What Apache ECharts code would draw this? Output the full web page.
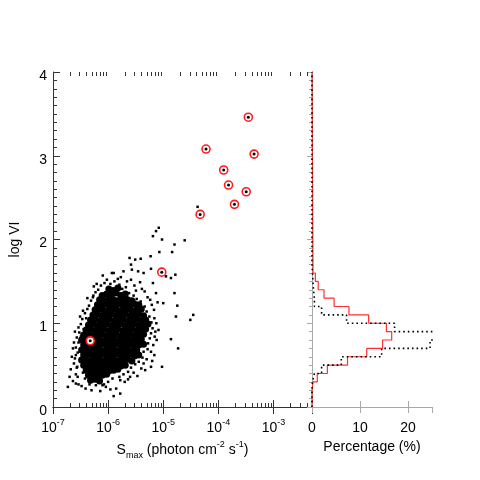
<!DOCTYPE html>
<html>
<head>
<meta charset="utf-8">
<title>log VI vs Smax</title>
<script src="https://cdn.jsdelivr.net/npm/echarts@6.0.0/dist/echarts.min.js"></script>
<style>
  html, body { margin: 0; padding: 0; background: #fff; }
  #main { width: 480px; height: 480px; }
</style>
</head>
<body>
<div id="main"></div>
<script>
// dense core of the event cloud: [Smax, log VI]
var coreDots = [
  [1.03e-6,1.41],[1.25e-6,1.39],[1.5e-6,1.42],
  [7.8e-7,1.33],[9.4e-7,1.35],[1.15e-6,1.34],[1.4e-6,1.36],[1.7e-6,1.33],[2.05e-6,1.35],
  [7.0e-7,1.28],[8.5e-7,1.27],[1.03e-6,1.29],[1.25e-6,1.28],[1.5e-6,1.27],[1.85e-6,1.29],[2.25e-6,1.28],[2.7e-6,1.27],
  [6.4e-7,1.22],[7.8e-7,1.21],[9.4e-7,1.23],[1.15e-6,1.22],[1.4e-6,1.21],[1.7e-6,1.23],[2.05e-6,1.22],[2.5e-6,1.21],[3.0e-6,1.23],[3.6e-6,1.22],
  [5.8e-7,1.16],[7.0e-7,1.17],[8.5e-7,1.15],[1.03e-6,1.16],[1.25e-6,1.17],[1.5e-6,1.15],[1.85e-6,1.16],[2.25e-6,1.17],[2.7e-6,1.15],[3.3e-6,1.16],[4.0e-6,1.17],
  [5.3e-7,1.10],[6.4e-7,1.11],[7.8e-7,1.09],[9.4e-7,1.10],[1.15e-6,1.11],[1.4e-6,1.09],[1.7e-6,1.10],[2.05e-6,1.11],[2.5e-6,1.09],[3.0e-6,1.10],[3.6e-6,1.11],[4.4e-6,1.09],
  [4.8e-7,1.04],[5.8e-7,1.05],[7.0e-7,1.03],[8.5e-7,1.04],[1.03e-6,1.05],[1.25e-6,1.03],[1.5e-6,1.04],[1.85e-6,1.05],[2.25e-6,1.03],[2.7e-6,1.04],[3.3e-6,1.05],[4.0e-6,1.03],[4.8e-6,1.04],
  [4.4e-7,0.98],[5.3e-7,0.99],[6.4e-7,0.97],[7.8e-7,0.98],[9.4e-7,0.99],[1.15e-6,0.97],[1.4e-6,0.98],[1.7e-6,0.99],[2.05e-6,0.97],[2.5e-6,0.98],[3.0e-6,0.99],[3.6e-6,0.97],[4.4e-6,0.98],[5.3e-6,0.99],
  [4.0e-7,0.92],[4.8e-7,0.93],[5.8e-7,0.91],[7.0e-7,0.92],[8.5e-7,0.93],[1.03e-6,0.91],[1.25e-6,0.92],[1.5e-6,0.93],[1.85e-6,0.91],[2.25e-6,0.92],[2.7e-6,0.93],[3.3e-6,0.91],[4.0e-6,0.92],[4.8e-6,0.93],
  [3.6e-7,0.86],[4.4e-7,0.87],[5.3e-7,0.85],[6.4e-7,0.86],[7.8e-7,0.87],[9.4e-7,0.85],[1.15e-6,0.86],[1.4e-6,0.87],[1.7e-6,0.85],[2.05e-6,0.86],[2.5e-6,0.87],[3.0e-6,0.85],[3.6e-6,0.86],[4.4e-6,0.87],
  [3.3e-7,0.80],[4.0e-7,0.81],[4.8e-7,0.79],[5.8e-7,0.80],[7.0e-7,0.81],[8.5e-7,0.79],[1.03e-6,0.80],[1.25e-6,0.81],[1.5e-6,0.79],[1.85e-6,0.80],[2.25e-6,0.81],[2.7e-6,0.79],[3.3e-6,0.80],[4.0e-6,0.81],
  [3.6e-7,0.74],[4.4e-7,0.75],[5.3e-7,0.73],[6.4e-7,0.74],[7.8e-7,0.75],[9.4e-7,0.73],[1.15e-6,0.74],[1.4e-6,0.75],[1.7e-6,0.73],[2.05e-6,0.74],[2.5e-6,0.75],[3.0e-6,0.73],[3.6e-6,0.74],[4.4e-6,0.75],
  [3.3e-7,0.68],[4.0e-7,0.69],[4.8e-7,0.67],[5.8e-7,0.68],[7.0e-7,0.69],[8.5e-7,0.67],[1.03e-6,0.68],[1.25e-6,0.69],[1.5e-6,0.67],[1.85e-6,0.68],[2.25e-6,0.69],[2.7e-6,0.67],[3.3e-6,0.68],
  [3.6e-7,0.62],[4.4e-7,0.63],[5.3e-7,0.61],[6.4e-7,0.62],[7.8e-7,0.63],[9.4e-7,0.61],[1.15e-6,0.62],[1.4e-6,0.63],[1.7e-6,0.61],[2.05e-6,0.62],[2.5e-6,0.63],[3.0e-6,0.61],[3.6e-6,0.62],
  [3.3e-7,0.56],[4.0e-7,0.57],[4.8e-7,0.55],[5.8e-7,0.56],[7.0e-7,0.57],[8.5e-7,0.55],[1.03e-6,0.56],[1.25e-6,0.57],[1.5e-6,0.55],[1.85e-6,0.56],[2.25e-6,0.57],[2.7e-6,0.55],
  [3.6e-7,0.50],[4.4e-7,0.51],[5.3e-7,0.49],[6.4e-7,0.50],[7.8e-7,0.51],[9.4e-7,0.49],[1.15e-6,0.50],[1.4e-6,0.51],[1.7e-6,0.49],[2.05e-6,0.50],
  [4.0e-7,0.44],[4.8e-7,0.45],[5.8e-7,0.43],[7.0e-7,0.44],[8.5e-7,0.45],[1.03e-6,0.43],[1.25e-6,0.44],[1.5e-6,0.45],
  [4.4e-7,0.38],[5.3e-7,0.39],[6.4e-7,0.37],[7.8e-7,0.38],[9.4e-7,0.39],
  [4.8e-7,0.32],[5.8e-7,0.33],[7.0e-7,0.31]
];

// sparser edge of the cloud
var haloDots = [
  [2.3e-7,0.31],[2.6e-7,0.39],[2.4e-7,0.52],[2.7e-7,0.47],[2.5e-7,0.58],[2.8e-7,0.65],[2.6e-7,0.71],[2.9e-7,0.77],
  [2.7e-7,0.83],[3.0e-7,0.89],[2.9e-7,0.95],[3.2e-7,0.99],[3.4e-7,1.05],[3.6e-7,0.93],[3.8e-7,1.12],[4.2e-7,1.17],
  [4.5e-7,1.21],[4.9e-7,1.27],[5.3e-7,1.31],[5.9e-7,1.37],[6.6e-7,1.40],[7.4e-7,1.45],[8.6e-7,1.48],[9.5e-7,1.52],
  [1.1e-6,1.47],[1.3e-6,1.50],[1.6e-6,1.46],[1.8e-6,1.41],[2.1e-6,1.43],[2.4e-6,1.36],[2.9e-6,1.33],[3.3e-6,1.29],
  [3.9e-6,1.26],[4.6e-6,1.20],[5.0e-6,1.14],[5.6e-6,1.08],[6.1e-6,1.01],[6.4e-6,0.94],[6.0e-6,0.88],[5.7e-6,0.82],
  [5.3e-6,0.76],[5.2e-6,0.69],[4.4e-6,0.66],[4.2e-6,0.59],[3.6e-6,0.54],[3.1e-6,0.51],[2.6e-6,0.47],[2.3e-6,0.42],
  [1.9e-6,0.39],[1.6e-6,0.36],[1.2e-6,0.34],[1.0e-6,0.30],[8.4e-7,0.27],[6.0e-7,0.26],[4.6e-7,0.27],[3.8e-7,0.34],
  [3.5e-7,0.41],[7.0e-6,0.84],[7.5e-6,1.00],[6.8e-6,1.16],[5.8e-6,1.28],[4.6e-6,1.38],[3.0e-6,1.45],[6.9e-6,0.62],
  [6.3e-6,0.55],[8.2e-6,0.92],[2.1e-7,0.45],[2.2e-7,0.60],[2.4e-7,0.77],[2.0e-7,0.36],[5.0e-7,0.20],[7.2e-7,0.19],
  [1.4e-6,0.22],[2.0e-6,0.30],[3.4e-6,0.37],[1.7e-6,1.55],[2.6e-6,1.52],[3.8e-6,1.49],[4.2e-7,1.30],[5.5e-7,1.44],
  [8.0e-7,1.57],[2.5e-7,0.90],[2.3e-7,0.70],[3.1e-7,1.08],[3.5e-7,1.15],[2.9e-7,0.27],[3.9e-7,0.22],[1.1e-6,0.21],
  [2.3e-6,0.33],[2.9e-6,0.41],[4.0e-6,0.46],[5.0e-6,0.57],[6.0e-6,0.66],[6.6e-6,0.74],[7.6e-6,0.80],[7.2e-6,0.90],
  [6.9e-6,1.06],[6.2e-6,1.22],[5.2e-6,1.31],[4.1e-6,1.41],[3.2e-6,1.39],[2.2e-6,1.50],[1.5e-6,1.53],[6.2e-7,1.47]
];

// isolated events outside the cloud
var strayDots = [
  [6.5e-6,2.04],[7.4e-6,2.10],[8.3e-6,2.14],[9.5e-6,2.00],[2.45e-5,1.99],[1.6e-5,1.94],[1.45e-5,1.85],[8.5e-6,1.85],
  [5.9e-6,1.80],[2.45e-6,1.78],[3.1e-6,1.76],[3.9e-6,1.77],[2.6e-6,1.70],[6.0e-6,1.65],[1.12e-5,1.56],[1.38e-5,1.54],
  [1.66e-5,1.58],[1.6e-5,1.36],[1.8e-5,1.21],[1.7e-5,1.08],[3.5e-5,1.10],[3.1e-5,1.04],[1.86e-5,0.70],[1.38e-5,0.81],
  [9.5e-6,0.48],[6.0e-6,0.48],[7.9e-6,1.25],[1.0e-5,1.24],[7.4e-6,1.36],[6.5e-6,1.48],[1.26e-6,1.60],[1.9e-6,1.62],
  [2.7e-6,1.64],[3.5e-6,1.62],[4.4e-6,1.60],[1.86e-7,0.24],[2.6e-7,0.28],[3.3e-7,0.25],[2.8e-7,0.36],[2.75e-7,0.48],
  [2.6e-7,0.62],[3.2e-7,0.84],[4.0e-7,1.06],[5.4e-7,1.33],[1.17e-6,1.60],[1.26e-6,0.13],[1.66e-6,0.16],[7.9e-7,0.26],
  [9.1e-7,0.24],[4.4e-6,0.52],[4.7e-6,0.44],[1.66e-6,0.32],[2.5e-6,0.36],[4.2e-5,2.39]
];

// events marked with red circles
var flareSmax = [3.5e-4, 5.97e-5, 4.45e-4, 1.25e-4, 1.53e-4, 3.2e-4, 1.96e-4, 4.67e-5, 9.4e-6, 4.74e-7];
var flareVI   = [3.46, 3.08, 3.02, 2.83, 2.65, 2.57, 2.42, 2.30, 1.61, 0.79];

// histograms of log VI (percent per 0.1 bin)
var histEdges = [0.2,0.3,0.4,0.5,0.6,0.7,0.8,0.9,1.0,1.1,1.2,1.3,1.4,1.5,1.6,1.7];
var redPct    = [0.2,1.1,3.2,7.4,11.4,14.7,16.6,15.5,11.8,7.7,4.6,2.5,1.3,0.7,0.2];
var blackPct  = [0.1,0.5,2.0,6.1,14.5,24.6,26.0,17.2,7.2,2.0,0.5,0.3,0.2,0.1,0];

// axis ticks
var decades = [1e-7, 1e-6, 1e-5, 1e-4, 1e-3];
var minorMult = [2, 3, 4, 5, 6, 7, 8, 9];
var smaxMax = 5e-3;

var FONT = '"Liberation Sans", Arial, Helvetica, sans-serif';
var DARK = '#333';
var LIGHT = '#aaa';

var minorTicks = [];
decades.forEach(function (d) {
  minorMult.forEach(function (m) {
    if (d * m < smaxMax) minorTicks.push([d * m, 0]);
  });
});

function steps(pct) {
  var pts = [[0, 0], [0, histEdges[0]]];
  pct.forEach(function (p, i) {
    pts.push([p, histEdges[i]], [p, histEdges[i + 1]]);
  });
  pts.push([0, histEdges[histEdges.length - 1]], [0, 4]);
  return pts;
}

var flareDots = flareSmax.map(function (s, i) { return [s, flareVI[i]]; });

var rich = {
  n: { fontSize: 14, fontFamily: FONT, color: '#000', lineHeight: 20 },
  sup: { fontSize: 9, fontFamily: FONT, color: '#000', lineHeight: 10, verticalAlign: 'top' },
  sub: { fontSize: 9, fontFamily: FONT, color: '#000', lineHeight: 10, verticalAlign: 'bottom' }
};

var chart = echarts.init(document.getElementById('main'));

var option = {
  animation: false,
  backgroundColor: '#fff',
  grid: [
    { left: 48, top: 72, width: 264, height: 335 },
    { left: 312, top: 72, width: 120, height: 335 }
  ],
  xAxis: [
    {
      gridIndex: 0, type: 'log', logBase: 10, min: 1e-7, max: smaxMax, position: 'bottom',
      axisLine: { lineStyle: { color: DARK } },
      axisTick: { inside: true, length: 7, lineStyle: { color: DARK } },
      splitLine: { show: false },
      axisLabel: {
        margin: 11, showMinLabel: true, showMaxLabel: true,
        formatter: function (v) {
          var l = Math.log10(v), e = Math.round(l);
          if (Math.abs(l - e) > 0.01) return '';
          return '{n|10}{sup|' + e + '}';
        },
        rich: rich
      },
      name: '{n|S}{sub|max}{n| (photon cm}{sup|-2}{n| s}{sup|-1}{n|)}',
      nameLocation: 'middle', nameGap: 31,
      nameTextStyle: { rich: rich }
    },
    {
      gridIndex: 0, type: 'log', logBase: 10, min: 1e-7, max: smaxMax, position: 'top',
      axisLine: { lineStyle: { color: DARK } },
      axisTick: { inside: true, length: 7, lineStyle: { color: DARK } },
      axisLabel: { show: false },
      splitLine: { show: false }
    },
    {
      gridIndex: 1, type: 'value', min: 0, max: 25, interval: 10, position: 'bottom',
      axisLine: { lineStyle: { color: LIGHT } },
      axisTick: { inside: true, length: 6, lineStyle: { color: LIGHT } },
      axisLabel: { margin: 14, fontSize: 14, fontFamily: FONT, color: '#000', showMaxLabel: false },
      splitLine: { show: false },
      name: 'Percentage (%)', nameLocation: 'middle', nameGap: 33,
      nameTextStyle: { fontSize: 14, fontFamily: FONT, color: '#000' }
    },
    {
      gridIndex: 1, type: 'value', min: 0, max: 25, interval: 10, position: 'top',
      axisLine: { lineStyle: { color: LIGHT } },
      axisTick: { inside: true, length: 6, lineStyle: { color: LIGHT } },
      axisLabel: { show: false },
      splitLine: { show: false }
    }
  ],
  yAxis: [
    {
      gridIndex: 0, type: 'value', min: 0, max: 4, interval: 1, position: 'left',
      axisLine: { lineStyle: { color: DARK } },
      axisTick: { inside: true, length: 7, lineStyle: { color: DARK } },
      minorTick: { show: true, splitNumber: 10, length: 4, lineStyle: { color: DARK } },
      splitLine: { show: false },
      axisLabel: { margin: 6, fontSize: 14, fontFamily: FONT, color: '#000', verticalAlign: 'top', lineHeight: 8 },
      name: 'log VI', nameLocation: 'middle', nameGap: 31, nameRotate: 90,
      nameTextStyle: { fontSize: 14, fontFamily: FONT, color: '#000' }
    },
    {
      gridIndex: 0, type: 'value', min: 0, max: 4, interval: 1, position: 'right',
      axisLine: { lineStyle: { color: DARK } },
      axisTick: { show: false },
      axisLabel: { show: false },
      splitLine: { show: false }
    },
    {
      gridIndex: 1, type: 'value', min: 0, max: 4, interval: 1, position: 'left',
      axisLine: { show: false },
      axisTick: { show: false },
      axisLabel: { show: false },
      splitLine: { show: false }
    },
    {
      gridIndex: 1, type: 'value', min: 0, max: 4, interval: 1, position: 'right',
      axisLine: { lineStyle: { color: LIGHT } },
      axisTick: { inside: true, length: 5, lineStyle: { color: LIGHT } },
      minorTick: { show: true, splitNumber: 10, length: 3, lineStyle: { color: LIGHT } },
      axisLabel: { show: false },
      splitLine: { show: false }
    }
  ],
  series: [
    {
      type: 'custom', xAxisIndex: 0, yAxisIndex: 0, silent: true, clip: false,
      data: minorTicks, encode: { x: 0, y: 1 },
      renderItem: function (params, api) {
        var b = api.coord([api.value(0), 0]);
        var t = api.coord([api.value(0), 4]);
        var x = Math.round(b[0]) + 0.5;
        return {
          type: 'group',
          children: [
            { type: 'line', shape: { x1: x, y1: b[1], x2: x, y2: b[1] - 4 }, style: { stroke: DARK, lineWidth: 1 } },
            { type: 'line', shape: { x1: x, y1: t[1], x2: x, y2: t[1] + 4 }, style: { stroke: DARK, lineWidth: 1 } }
          ]
        };
      }
    },
    {
      type: 'scatter', xAxisIndex: 0, yAxisIndex: 0, data: coreDots,
      symbolSize: 7, itemStyle: { color: '#000', opacity: 1 }, silent: true
    },
    {
      type: 'scatter', xAxisIndex: 0, yAxisIndex: 0, data: haloDots.concat(strayDots),
      symbol: 'rect', symbolSize: 2.5, itemStyle: { color: '#000', opacity: 1 }, silent: true
    },
    {
      type: 'scatter', xAxisIndex: 0, yAxisIndex: 0, data: flareDots,
      symbolSize: 8, itemStyle: { color: '#fff', borderColor: '#ff1a1a', borderWidth: 1.6, opacity: 1 }, silent: true
    },
    {
      type: 'scatter', xAxisIndex: 0, yAxisIndex: 0, data: flareDots,
      symbolSize: 3, itemStyle: { color: '#000', opacity: 1 }, silent: true
    },
    {
      type: 'line', xAxisIndex: 2, yAxisIndex: 2, data: steps(redPct),
      showSymbol: false, clip: true, silent: true,
      lineStyle: { color: '#ff3030', width: 1.2 }
    },
    {
      type: 'line', xAxisIndex: 2, yAxisIndex: 2, data: steps(blackPct),
      showSymbol: false, clip: true, silent: true,
      lineStyle: { color: '#000', width: 1.6, type: [1.6, 3] }
    }
  ]
};

chart.setOption(option);
</script>
</body>
</html>
